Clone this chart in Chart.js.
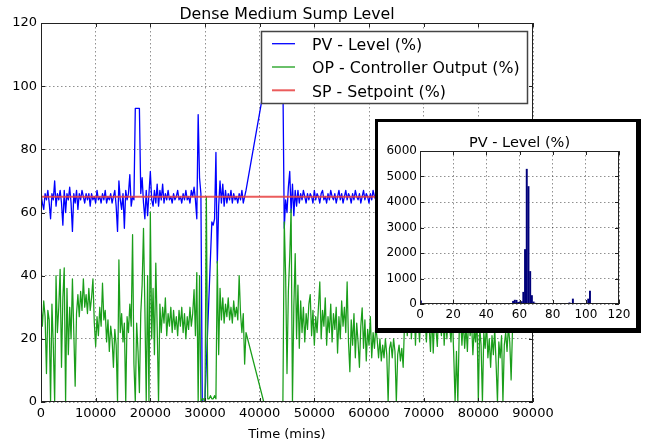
<!DOCTYPE html>
<html>
<head>
<meta charset="utf-8">
<title>Dense Medium Sump Level</title>
<script src="https://cdn.jsdelivr.net/npm/chart.js@4.4.1/dist/chart.umd.min.js"></script>
<style>
  html, body { margin: 0; padding: 0; background: #fff; }
  #wrap { position: relative; width: 650px; height: 445px; overflow: hidden; }
  #mainChart { position: absolute; left: 0; top: 0; }
  #inset {
    position: absolute; left: 375px; top: 119px; width: 258px; height: 206px;
    border-style: solid; border-color: #000; border-width: 3px 5px 5px 3px;
    background: #fff;
  }
  #histChart { display: block; }
</style>
</head>
<body>
<div id="wrap">
  <canvas id="mainChart" width="650" height="445"></canvas>
  <div id="inset"><canvas id="histChart" width="258" height="206"></canvas></div>
</div>
<script>
// one sample every 250 minutes, 0 .. 90000
const sampleStepMins = 250;

// PV - level (%), null = no data (line bridges the gap)
const pvLevel = [
  66, 63, 61, 66, 64, 67, 63, 58, 66, 64,
  70, 62, 66, 64, 67, 63, 56, 67, 60, 66,
  64, 68, 63, 54, 66, 63, 67, 61, 66, 64,
  67, 65, 63, 66, 64, 66, 62, 66, 64, 65,
  63, 67, 64, 65, 63, 66, 64, 67, 63, 65,
  64, 66, 63, 65, 67, 62, 54, 70, 64, 61,
  66, 55, 67, 64, 66, 72, 62, 65, 64, 93,
  93, 93, 93, 66, 71, 63, 58, 67, 59, 66,
  73, 64, 62, 67, 63, 69, 62, 67, 64, 69,
  63, 66, 64, 67, 64, 65, 63, 66, 64, 65,
  67, 64, 65, 63, 66, 64, 67, 64, 65, 63,
  67, 65, 68, 64, 58, 91, 71, 66, 0, 0,
  1, null, null, null, null, 57, 56, 58, 79, 44,
  62, 70, 63, 69, 62, 67, 63, 66, 64, 67,
  63, 66, 64, 65, 63, 66, 64, 67, 63, 65,
  67, null, null, null, null, null, null, null, null, null,
  null, null, null, 99, 102, 102.5, 102, 103, 102.5, 102,
  102.5, 103, 102, 102.5, 103, 102.5, 102, 102, 55, 64,
  60, 68, 73, 60, 69, 59, 67, 62, 67, 63,
  66, 64, 67, 65, 63, 66, 64, 66, 65, 63,
  67, 64, 66, 65, 63, 66, 67, 64, 65, 63,
  66, 64, 67, 65, 64, 66, 63, 65, 67, 64,
  66, 63, 65, 67, 64, 66, 65, 63, 66, 64,
  67, 65, 64, 66, 63, 65, 67, 64, 66, 65,
  63, 66, 64, 67, 65, 64, 66, 63, 65, 67,
  64, 66, 65, 63, 66, 64, 67, 65, 64, 66,
  63, 65, 67, 64, 66, 65, 63, 66, 64, 67,
  65, 64, 66, 63, 65, 67, 64, 66, 65, 63,
  66, 64, 67, 65, 64, 66, 63, 65, 67, 64,
  66, 65, 63, 66, 64, 67, 65, 64, 66, 63,
  65, 67, 64, 66, 65, 63, 66, 64, 67, 65,
  64, 66, 63, 65, 67, 64, 66, 65, 63, 66,
  64, 67, 65, 64, 66, 63, 65, 67, 64, 66,
  65, 63, 66, 64, 67, 65, 64, 66, 63, 65,
  67, 64, 66, 65, 63, 66, 64, 67, 65, 64,
  66, 63, 65, 67, 64, 66, 65, 63, 66, 64,
  65
];

// OP - controller output (%)
const opOutput = [
  31, 24, 32, 27, 9, 29, 26, 0, 31, 18,
  0, 40, 22, 30, 42, 11, 33, 42.5, 0, 36,
  15, 30, 20, 39, 22, 5, 28, 34, 27, 35,
  29, 39, 30, 34, 28, 36, 29, 33, 39, 25,
  17.6, 27, 21, 30, 24, 37.6, 26, 29, 19, 26,
  16, 24, 20, 11, 23, 18, 0, 45, 22, 28,
  19, 25, 0, 27, 22, 31, 24, 53, 12, 0,
  25, 16, 3, 28, 37, 55, 30, 0, 40, 0,
  60, 20, 36, 15, 44, 24, 0, 31, 22, 30,
  25, 33, 21, 28, 24, 30, 22, 29, 23, 27,
  21, 29, 24, 30, 22, 28, 20, 27, 23, 30,
  24, 28, 35.6, 21, 41, 0, 40, 0, 1, 1,
  0, 65, 1, 1, 2, 1, 1, 2, 1, 44.5,
  15, 36, 26, 33, 25, 31, 27, 33, 26, 30,
  25, 32, 27, 30, 26, 40, 28, 22, 28, 12,
  22, null, null, null, null, null, null, null, null, null,
  null, null, null, 0, 0, 0, 0, 0, 0, 0,
  0, 0, 0, 0, 0, 0, 0, 0, 57, 40,
  9, 35, 46, 61, 0, 30, 47, 20, 37, 17,
  32, 22, 30, 19, 28, 23, 31, 34, 21, 29,
  18, 27, 22, 30, 38, 20, 29, 24, 33, 18,
  27, 22, 31, 19, 28, 23, 30, 15.5, 27, 20,
  32, 24, 30, 22, 38, 19, 9.6, 26, 18, 28,
  14, 25, 19, 11, 24, 29.8, 17, 26, 13, 23,
  18, 27, 14, 22, 17, 24, 19.7, 14, 20, 13,
  18, 14, 20, 15, 0, 17, 19, 14, 20, 16,
  0, 15, 18, 13, 17, 11, 25, 30, 21, 28,
  33, 20, 27, 31, 18, 29, 26, 19, 30, 25,
  32, 27, 19, 28, 24, 16, 29, 15.5, 27, 23,
  17.6, 30, 25, 21, 31, 18, 27, 20, 29, 24,
  19, 28, 15, 0, 16, 0, 22, 27, 18, 26,
  17, 24, 16, 28, 21, 26, 15, 23, 19, 27,
  0, 24, 18, 0, 22, 17, 25, 14, 20, 11,
  21, 15, 23, 12, 0, 19, 14, 21, 0, 18,
  22, 16, 24, 19, 7, 23, 28, 30, 26, 33,
  28, 31, 25, 34, 27, 30, 26, 32, 29, 27,
  31
];

// SP - setpoint (%)
const spTime = [0, 90000];
const spValue = [65, 65];

// histogram of PV, 100 bins of 1.03 % from 0 to 103
const histBinWidth = 1.03;
const histCounts = [
  140, 0, 0, 0, 0, 0, 0, 0, 0, 0,
  0, 0, 0, 0, 0, 0, 0, 0, 0, 0,
  0, 0, 0, 0, 0, 0, 0, 0, 0, 0,
  0, 0, 0, 0, 0, 0, 0, 0, 0, 0,
  0, 0, 0, 0, 0, 0, 15, 25, 0, 5,
  0, 8, 10, 12, 120, 165, 160, 80, 100, 110,
  475, 2150, 5300, 4620, 1290, 345, 95, 45, 25, 15,
  12, 10, 10, 8, 10, 8, 10, 12, 10, 8,
  10, 12, 10, 15, 12, 10, 20, 60, 15, 210,
  15, 10, 8, 10, 12, 15, 20, 40, 210, 520
];

const legendLabels = ['PV - Level (%)', 'OP - Controller Output (%)', 'SP - Setpoint (%)'];
const seriesColors = ['#0000ff', '#1a9e1a', 'rgba(232,64,64,0.85)'];

Chart.defaults.font.family = "'DejaVu Sans', sans-serif";
Chart.defaults.color = '#000';

const timeMins = pvLevel.map((_, i) => i * sampleStepMins);
const histCenters = histCounts.map((_, i) => (i + 0.5) * histBinWidth);
const toPoints = (xs, ys) => xs.map((x, i) => ({ x: x, y: ys[i] }));

// matplotlib-like box around the axes with inward ticks
function axesFrame(tickLen) {
  return {
    id: 'axesFrame',
    afterDatasetsDraw(chart) {
      const { ctx, chartArea: a, scales } = chart;
      ctx.save();
      ctx.strokeStyle = '#222';
      ctx.lineWidth = 1;
      ctx.beginPath();
      scales.x.ticks.forEach(t => {
        const px = Math.round(scales.x.getPixelForValue(t.value)) + 0.5;
        ctx.moveTo(px, a.bottom); ctx.lineTo(px, a.bottom - tickLen);
        ctx.moveTo(px, a.top); ctx.lineTo(px, a.top + tickLen);
      });
      scales.y.ticks.forEach(t => {
        const py = Math.round(scales.y.getPixelForValue(t.value)) + 0.5;
        ctx.moveTo(a.left, py); ctx.lineTo(a.left + tickLen, py);
        ctx.moveTo(a.right, py); ctx.lineTo(a.right - tickLen, py);
      });
      ctx.stroke();
      ctx.strokeRect(a.left + 0.5, a.top + 0.5, a.right - a.left - 1, a.bottom - a.top - 1);
      ctx.restore();
    }
  };
}

function textLabels(items) {
  return {
    id: 'textLabels',
    afterDraw(chart) {
      const ctx = chart.ctx;
      ctx.save();
      ctx.fillStyle = '#000';
      ctx.textAlign = 'center';
      ctx.textBaseline = 'alphabetic';
      items.forEach(it => {
        ctx.font = it.size + "px 'DejaVu Sans', sans-serif";
        ctx.fillText(it.text, it.x, it.y);
      });
      ctx.restore();
    }
  };
}

const boxLegend = {
  id: 'boxLegend',
  afterDraw(chart) {
    const ctx = chart.ctx;
    ctx.save();
    ctx.fillStyle = '#fff';
    ctx.fillRect(261, 31, 267, 73);
    ctx.strokeStyle = '#444';
    ctx.lineWidth = 1.5;
    ctx.strokeRect(261.5, 31.5, 266, 72);
    ctx.font = "15.8px 'DejaVu Sans', sans-serif";
    ctx.textBaseline = 'alphabetic';
    ctx.textAlign = 'left';
    legendLabels.forEach((lbl, i) => {
      const base = 50 + i * 23.3;
      ctx.strokeStyle = seriesColors[i];
      ctx.lineWidth = i === 2 ? 2 : 1.3;
      ctx.beginPath();
      ctx.moveTo(272, base - 6.3);
      ctx.lineTo(295, base - 6.3);
      ctx.stroke();
      ctx.fillStyle = '#000';
      ctx.fillText(lbl, 312, base);
    });
    ctx.restore();
  }
};

const gridStyle = { color: 'rgba(0,0,0,0.55)', lineWidth: 0.8, drawTicks: false };
const gridBorder = { display: false, dash: [1.5, 2.5] };

new Chart(document.getElementById('mainChart'), {
  type: 'line',
  data: {
    datasets: [
      {
        label: legendLabels[0], data: toPoints(timeMins, pvLevel),
        borderColor: seriesColors[0], borderWidth: 1.3, pointRadius: 0,
        spanGaps: true, tension: 0, borderJoinStyle: 'round', order: 3
      },
      {
        label: legendLabels[1], data: toPoints(timeMins, opOutput),
        borderColor: seriesColors[1], borderWidth: 1.25, pointRadius: 0,
        spanGaps: true, tension: 0, borderJoinStyle: 'round', order: 2
      },
      {
        label: legendLabels[2], data: toPoints(spTime, spValue),
        borderColor: seriesColors[2], borderWidth: 2, pointRadius: 0,
        tension: 0, order: 1
      }
    ]
  },
  options: {
    responsive: false,
    animation: false,
    devicePixelRatio: 1,
    events: [],
    layout: { padding: { top: 23, right: 117, bottom: 0, left: 0 } },
    plugins: { legend: { display: false }, tooltip: { enabled: false }, title: { display: false } },
    scales: {
      x: {
        type: 'linear', min: 0, max: 90000,
        afterFit: s => { s.height = 43; },
        ticks: { stepSize: 10000, padding: 4, maxRotation: 0, autoSkip: false,
                 font: { size: 13 }, callback: v => String(v) },
        grid: gridStyle, border: gridBorder
      },
      y: {
        type: 'linear', min: 0, max: 120,
        afterFit: s => { s.width = 41; },
        ticks: { stepSize: 20, padding: 4, autoSkip: false,
                 font: { size: 13 }, callback: v => String(v) },
        grid: gridStyle, border: gridBorder
      }
    }
  },
  plugins: [
    axesFrame(4),
    textLabels([
      { text: 'Dense Medium Sump Level', x: 287, y: 19.3, size: 15.8 },
      { text: 'Time (mins)', x: 287, y: 438.3, size: 13 }
    ]),
    boxLegend
  ]
});

new Chart(document.getElementById('histChart'), {
  type: 'bar',
  data: {
    datasets: [{
      label: 'PV - Level (%)',
      data: toPoints(histCenters, histCounts),
      backgroundColor: '#00007a',
      borderWidth: 0,
      barPercentage: 1.15,
      categoryPercentage: 1
    }]
  },
  options: {
    responsive: false,
    animation: false,
    devicePixelRatio: 1,
    events: [],
    layout: { padding: { top: 29, right: 17, bottom: 0, left: 0 } },
    plugins: { legend: { display: false }, tooltip: { enabled: false }, title: { display: false } },
    scales: {
      x: {
        type: 'linear', min: 0, max: 120, offset: false,
        afterFit: s => { s.height = 24; },
        ticks: { stepSize: 20, padding: 3.5, maxRotation: 0, autoSkip: false,
                 font: { size: 12 }, callback: v => String(v) },
        grid: Object.assign({ offset: false }, gridStyle), border: gridBorder
      },
      y: {
        type: 'linear', min: 0, max: 6000,
        afterFit: s => { s.width = 42; },
        ticks: { stepSize: 1000, padding: 3, autoSkip: false,
                 font: { size: 12 }, callback: v => String(v) },
        grid: gridStyle, border: gridBorder
      }
    }
  },
  plugins: [
    axesFrame(4),
    textLabels([{ text: 'PV - Level (%)', x: 141.5, y: 25.3, size: 14.5 }])
  ]
});
</script>
</body>
</html>
